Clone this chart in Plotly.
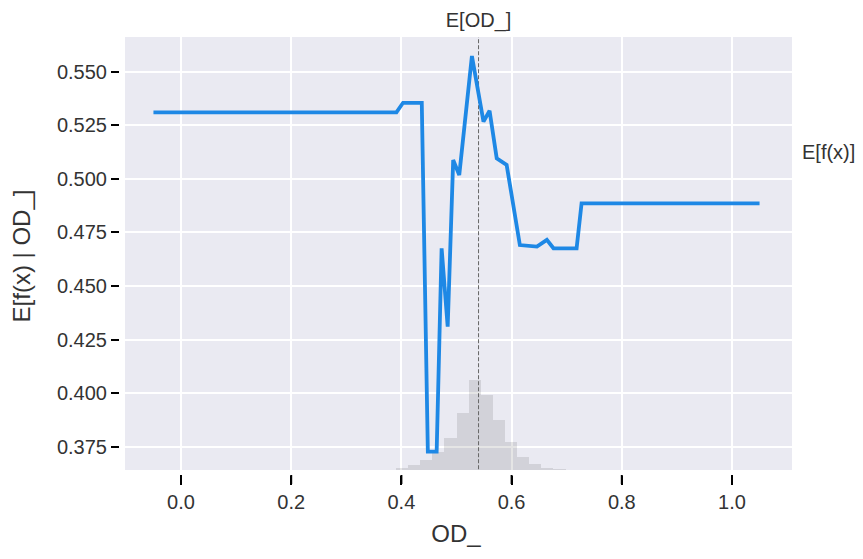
import plotly.graph_objects as go

# Partial dependence curve E[f(x) | OD_]
pd_x = [-0.05, 0.391, 0.403, 0.437, 0.448, 0.464, 0.473, 0.484, 0.494, 0.505,
        0.528, 0.549, 0.560, 0.573, 0.591, 0.615, 0.646, 0.664, 0.676, 0.718,
        0.727, 1.05]
pd_y = [0.531, 0.531, 0.5355, 0.5355, 0.3727, 0.3727, 0.4676, 0.431, 0.5088, 0.5018,
        0.5573, 0.5267, 0.5318, 0.5096, 0.5065, 0.4691, 0.4684, 0.4715, 0.4676, 0.4676,
        0.4886, 0.4886]

# Histogram of OD_ (bin centres, counts; 50 bins of width 0.022 over [-0.05, 1.05])
hist_centers = [0.401, 0.423, 0.445, 0.467, 0.489, 0.511, 0.533, 0.555, 0.577,
                0.599, 0.621, 0.643, 0.665, 0.687]
hist_counts = [5, 12, 22, 42, 74, 132, 208, 173, 115, 65, 30, 14, 5, 2]
hist_total = 1000
bin_width = 0.022

feature_expected = 0.540
model_expected = 0.5127

x_ticks = [0.0, 0.2, 0.4, 0.6, 0.8, 1.0]
y_ticks = [0.375, 0.400, 0.425, 0.450, 0.475, 0.500, 0.525, 0.550]

FONT = "Liberation Sans, Arial, sans-serif"
TXT = "#333333"

W, H = 863, 559
ml, mr, mt, mb = 120, 71, 37, 84
pw, ph = W - ml - mr, H - mt - mb
gap = 5  # white gap between tick marks and the shaded plot area
xtick_len = 9

x_range = [-0.1107, 1.1089]
y_range = [0.3618, 0.5662]
hist_range = [-hist_total * gap / (ph - gap), hist_total]

fig = go.Figure()
fig.add_trace(go.Bar(x=hist_centers, y=hist_counts, width=bin_width,
                     marker=dict(color="rgba(0,0,0,0.1)", line=dict(width=0)),
                     xaxis="x", yaxis="y", hoverinfo="skip", showlegend=False))
fig.add_trace(go.Scatter(x=[feature_expected, feature_expected], y=[y_range[0] + 0.0027, y_range[1]],
                         mode="lines", line=dict(color="#666666", width=1, dash="4px,2px"),
                         xaxis="x", yaxis="y2", hoverinfo="skip", showlegend=False))
fig.add_trace(go.Scatter(x=pd_x, y=pd_y, mode="lines",
                         line=dict(color="#1E88E5", width=3.8),
                         xaxis="x", yaxis="y2", showlegend=False))
# invisible anchors so the top and right label axes are drawn
fig.add_trace(go.Scatter(x=[feature_expected], y=[0], mode="markers", marker=dict(opacity=0),
                         xaxis="x2", yaxis="y", hoverinfo="skip", showlegend=False))
fig.add_trace(go.Scatter(x=[feature_expected], y=[model_expected], mode="markers",
                         marker=dict(opacity=0), xaxis="x", yaxis="y3",
                         hoverinfo="skip", showlegend=False))

shapes = [dict(type="rect", xref="paper", yref="paper", layer="below",
               x0=gap / pw, x1=1, y0=gap / ph, y1=1,
               fillcolor="#EAEAF2", line=dict(width=0))]
# x tick marks below the axis, placed at the tick values
for t in x_ticks:
    shapes.append(dict(type="line", xref="x", yref="paper", layer="above",
                       x0=t, x1=t, y0=0, y1=-xtick_len / ph,
                       line=dict(color="black", width=2)))

fig.update_layout(
    template="none",
    width=W, height=H,
    margin=dict(l=ml, r=mr, t=mt, b=mb, pad=0),
    paper_bgcolor="white", plot_bgcolor="white",
    font=dict(family=FONT, color=TXT, size=20),
    bargap=0,
    shapes=shapes,
    xaxis=dict(range=x_range, anchor="y", automargin=False,
               tickmode="array", tickvals=x_ticks, tickformat=".1f",
               showgrid=True, gridcolor="white", gridwidth=1.5,
               zeroline=False, showline=True, linecolor="rgba(0,0,0,0)", linewidth=1,
               ticks="outside", ticklen=xtick_len, tickwidth=2, tickcolor="black",
               tickfont=dict(size=20, color=TXT),
               title=dict(text="OD_", font=dict(size=24, color=TXT), standoff=13)),
    xaxis2=dict(overlaying="x", side="top", anchor="y", range=x_range, automargin=False,
                tickmode="array", tickvals=[feature_expected], ticktext=["E[OD_]"],
                showgrid=False, zeroline=False, showline=False,
                ticks="outside", ticklen=1, tickcolor="rgba(0,0,0,0)",
                tickfont=dict(size=20, color=TXT)),
    yaxis=dict(range=hist_range, visible=False, showgrid=False, zeroline=False,
               automargin=False),
    yaxis2=dict(overlaying="y", side="left", anchor="x", automargin=False,
                range=y_range, tickmode="array", tickvals=y_ticks, tickformat=".3f",
                showgrid=True, gridcolor="white", gridwidth=1.5,
                zeroline=False, showline=True, linecolor="rgba(0,0,0,0)", linewidth=1,
                ticks="outside", ticklen=8, tickwidth=2, tickcolor="black",
                tickfont=dict(size=20, color=TXT),
                title=dict(text="E[f(x) | OD_]", font=dict(size=24, color=TXT), standoff=19)),
    yaxis3=dict(overlaying="y", side="right", anchor="x", range=y_range, automargin=False,
                tickmode="array", tickvals=[model_expected], ticktext=["E[f(x)]"],
                showgrid=False, zeroline=False, showline=False,
                ticks="outside", ticklen=5, tickcolor="rgba(0,0,0,0)",
                tickfont=dict(size=20, color=TXT)),
)

fig.write_html("out.html")
